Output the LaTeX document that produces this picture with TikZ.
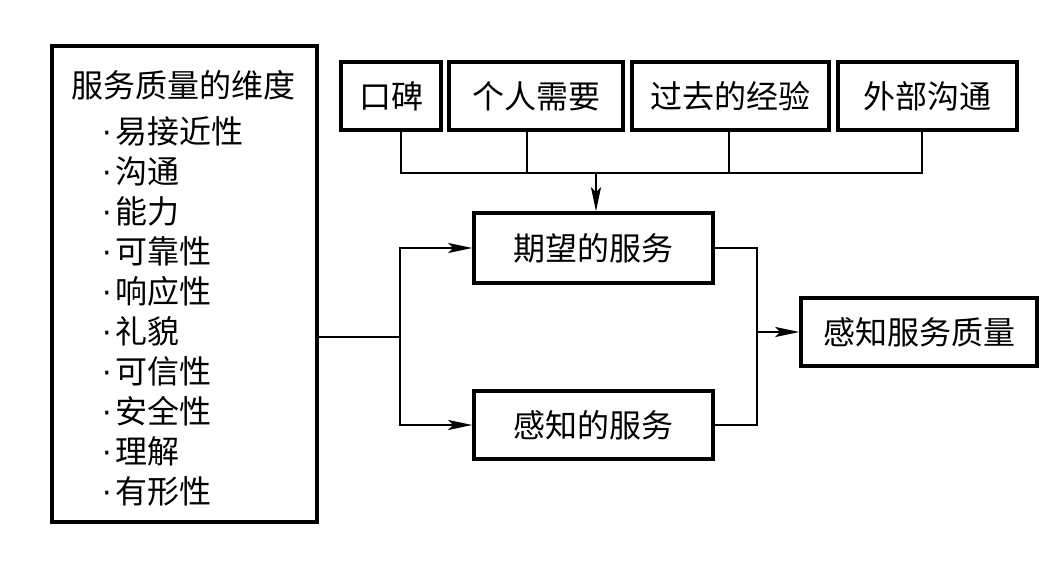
\documentclass[tikz,border=0pt]{standalone}
\usepackage{fontspec}
\newfontfamily\cjk{Noto Sans CJK SC}
\newfontfamily\dv{DejaVu Sans}
\usetikzlibrary{arrows.meta}
\newcommand{\bul}{\makebox[16pt][c]{\dv\fontsize{30}{32}\selectfont ·}}
\begin{document}
\begin{tikzpicture}[x=1pt,y=-1pt,
  box/.style={draw,line width=3.5pt,inner sep=0pt,font=\cjk\fontsize{32}{36}\selectfont},
  wire/.style={line width=2pt},
  arr/.style={wire,-{Stealth[length=24pt,width=10pt,inset=5pt]}},
  item/.style={anchor=west,font=\cjk\fontsize{32}{36}\selectfont,inner sep=0pt}]
\useasboundingbox (0,0) rectangle (1063,564);
% left box
\node[box,minimum width=265pt,minimum height=476pt] (dim) at (184.5,284) {};
\node[item,anchor=center] (title) at (183,85) {服务质量的维度};
\foreach \t [count=\i from 0] in {易接近性,沟通,能力,可靠性,响应性,礼貌,可信性,安全性,理解,有形性}{
  \node[item] (it\i) at (99,{131+40*\i}) {\bul\t};
}
% top boxes
\node[box,minimum width=100pt,minimum height=68pt] (kb) at (391,96) {口碑};
\node[box,minimum width=174pt,minimum height=68pt] (gr) at (536,96) {个人需要};
\node[box,minimum width=197pt,minimum height=68pt] (gq) at (730.5,96) {过去的经验};
\node[box,minimum width=179pt,minimum height=68pt] (wb) at (927.5,96) {外部沟通};
% middle boxes
\node[box,minimum width=239pt,minimum height=70pt] (qw) at (593.5,248) {期望的服务};
\node[box,minimum width=239pt,minimum height=68pt] (gz) at (593.5,425) {感知的服务};
\node[box,minimum width=236pt,minimum height=68pt] (zl) at (919,332) {感知服务质量};
% connectors top
\coordinate (j1) at (401,173);
\coordinate (j4) at (922,173);
\draw[wire] (kb.south -| j1) -- (j1) -- (j4) -- (wb.south -| j4);
\draw[wire] (gr.south -| 527,0) -- (527,173);
\draw[wire] (gq.south -| 729,0) -- (729,173);
\draw[arr] (596,173) -- (qw.north -| 596,0);
% left connectors
\coordinate (lj) at (400,337);
\draw[wire] (dim.east |- lj) -- (lj);
\draw[arr] (lj) -- (400,248) -- (qw.west);
\draw[arr] (lj) -- (400,425) -- (gz.west);
% right connectors
\coordinate (rj) at (757,332);
\draw[wire] (qw.east) -- (757,248) -- (757,425) -- (gz.east);
\draw[arr] (rj) -- (zl.west);
\end{tikzpicture}
\end{document}
